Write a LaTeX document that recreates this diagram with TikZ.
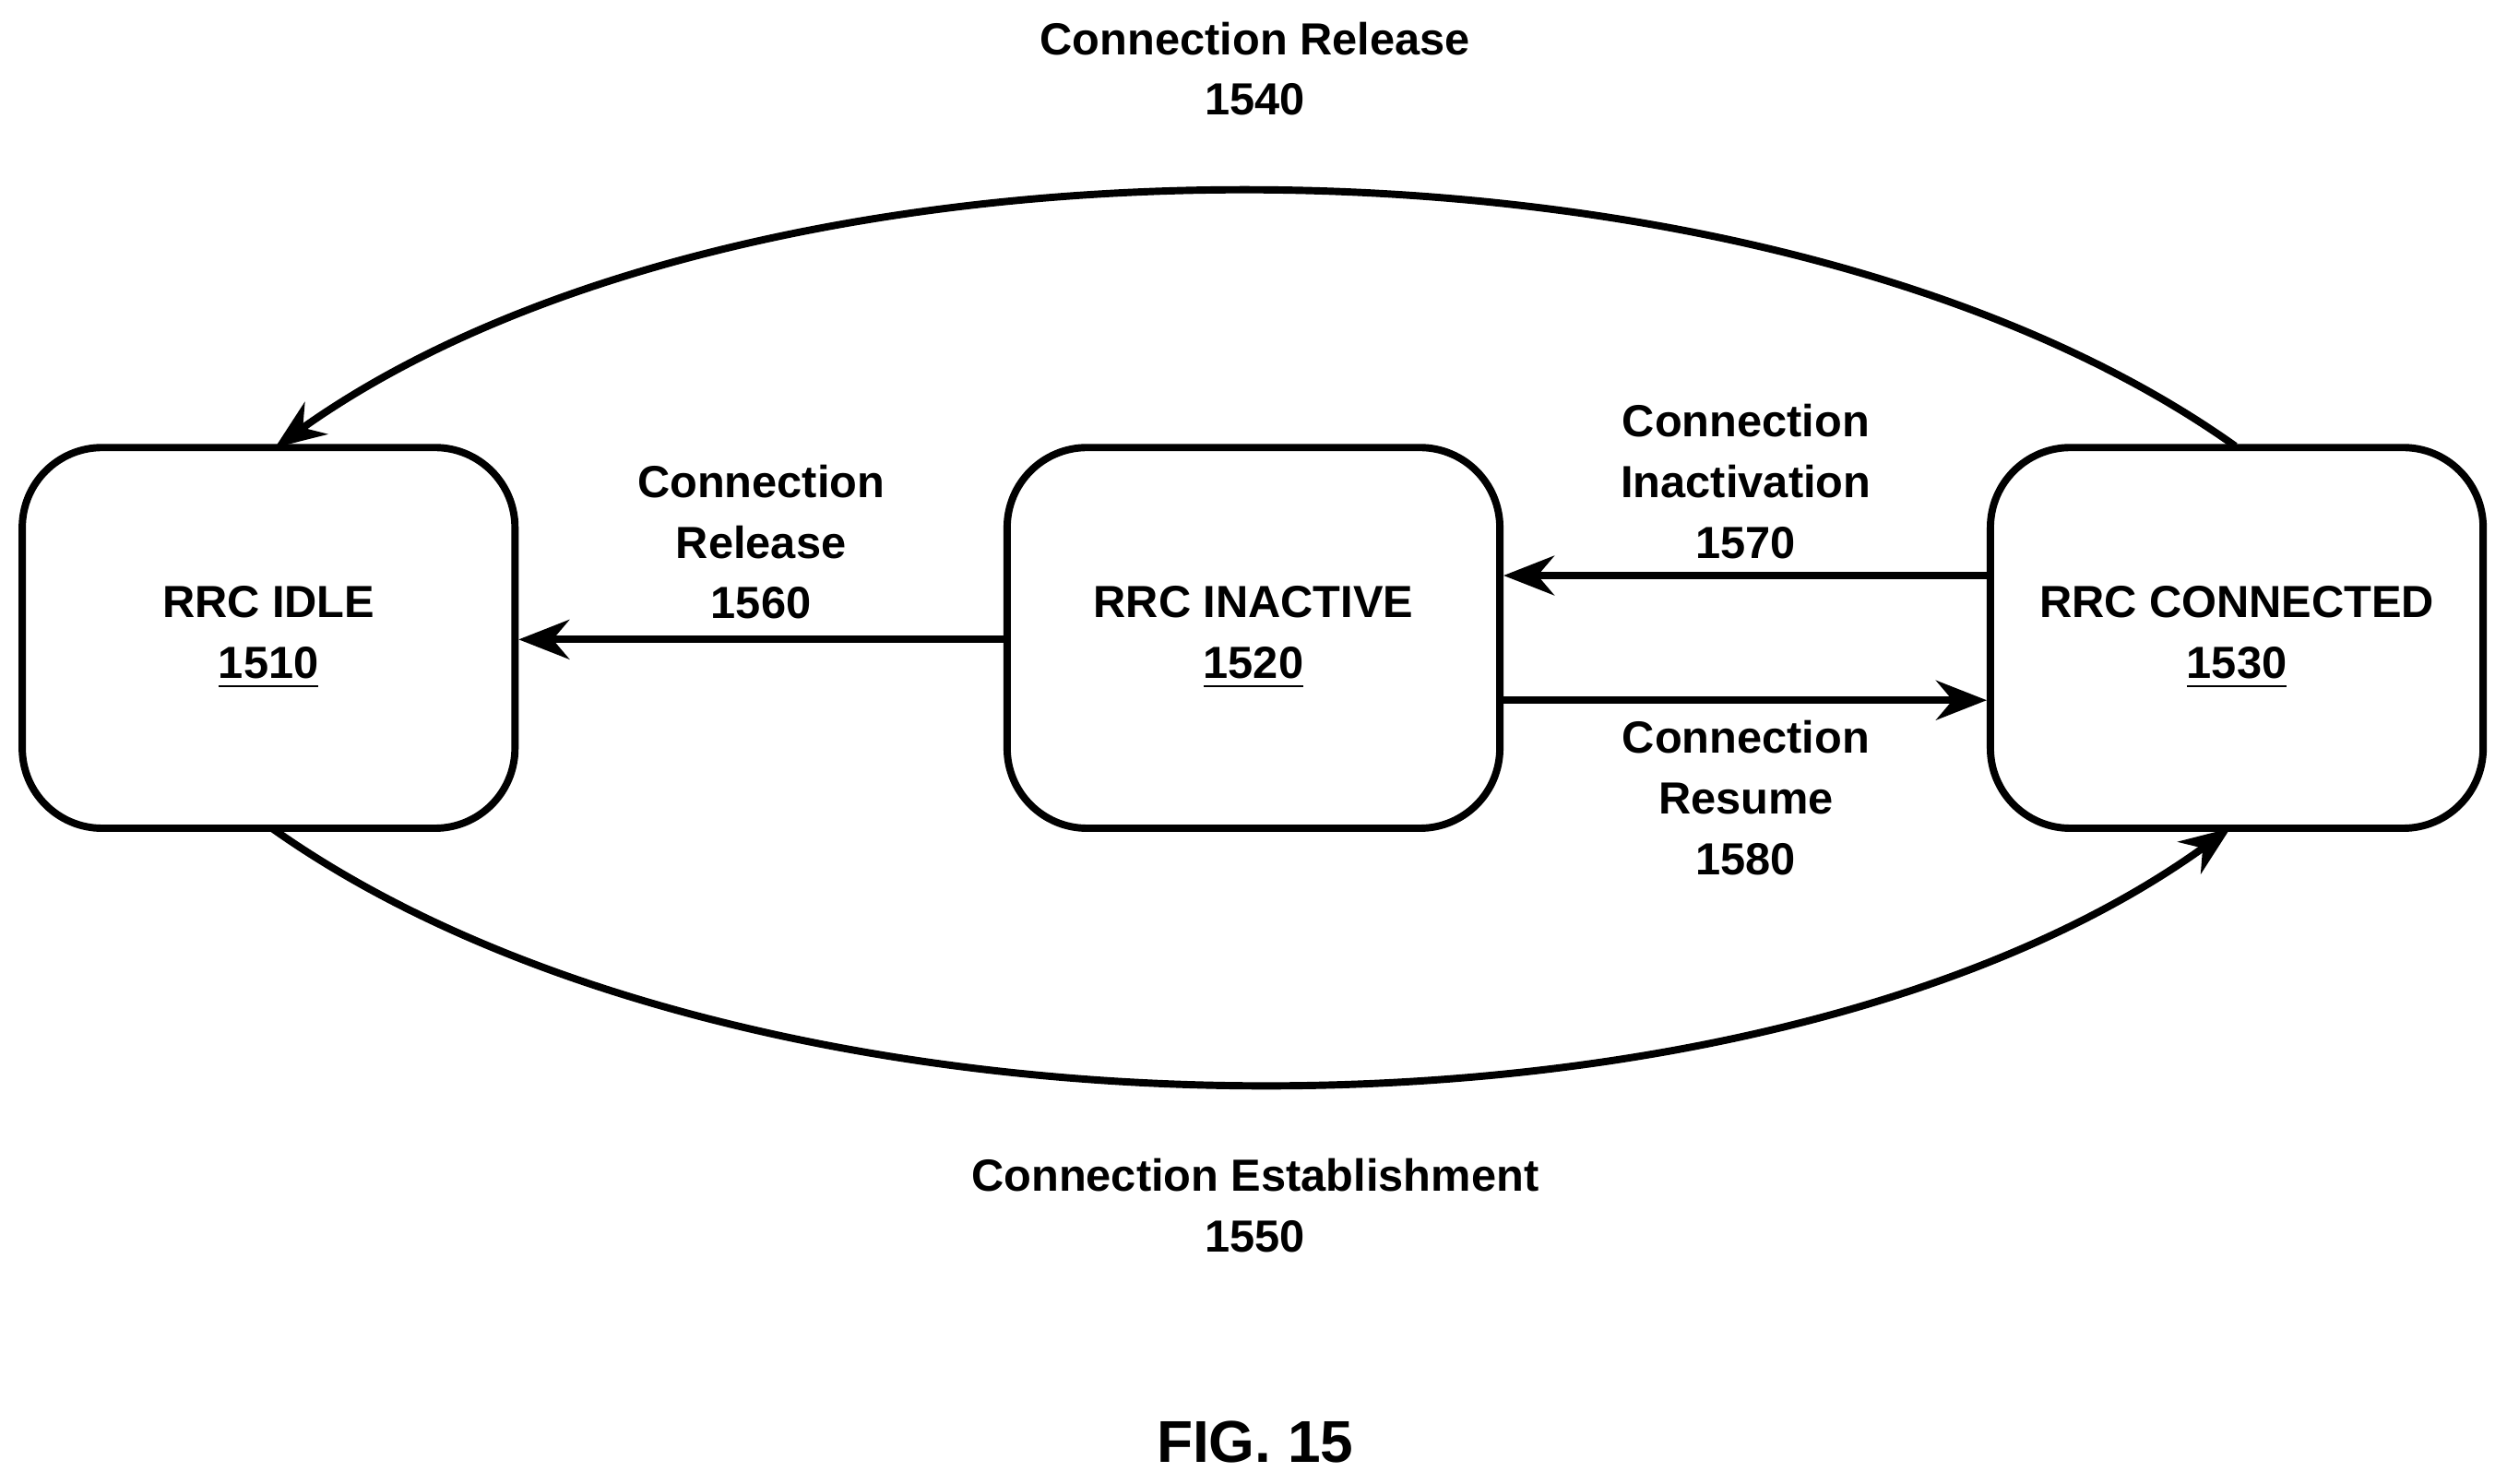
\documentclass[tikz,border=0pt]{standalone}
\usepackage{fontspec}
\setmainfont{Liberation Sans}
\usetikzlibrary{arrows.meta}
\begin{document}
\begin{tikzpicture}[x=0.01cm,y=-0.01cm,
  st/.style={draw,line width=1.3pt,rounded corners=0.5cm,minimum width=3.08cm,minimum height=2.38cm,align=center,font=\fontsize{8}{10.8}\selectfont\bfseries},
  lb/.style={align=center,font=\fontsize{8}{10.8}\selectfont\bfseries},
  ar/.style={line width=1.3pt,-{Stealth[length=9pt,width=7pt]}}]
\useasboundingbox (0,0) rectangle (1568,928);
\node[st] (idle) at (168,399) {RRC IDLE\\\underline{1510}};
\node[st] (inact) at (784,399) {RRC INACTIVE\\\underline{1520}};
\node[st] (conn) at (1399,399) {RRC CONNECTED\\\underline{1530}};
\coordinate (a1) at (1398,279);
\coordinate (a2) at (172,280);
\coordinate (b1) at (170,518);
\coordinate (b2) at (1395,518);
\draw[ar] (a1) .. controls (1100,67) and (470,67) .. (a2);
\draw[ar] (b1) .. controls (470,731) and (1100,731) .. (b2);
\draw[ar] (conn.west |- 0,360) -- (inact.east |- 0,360);
\draw[ar] (inact.east |- 0,438) -- (conn.west |- 0,438);
\draw[ar] (inact.west |- 0,400) -- (idle.east |- 0,400);
\node[lb] (l1540) at (785,43) {Connection Release\\1540};
\node[lb] (l1560) at (476,339) {Connection\\Release\\1560};
\node[lb] (l1570) at (1092,301) {Connection\\Inactivation\\1570};
\node[lb] (l1580) at (1092,499) {Connection\\Resume\\1580};
\node[lb] (l1550) at (785,754) {Connection Establishment\\1550};
\node[lb,font=\fontsize{10.5}{12}\selectfont\bfseries] (fig) at (785,902) {FIG. 15};
\end{tikzpicture}
\end{document}
